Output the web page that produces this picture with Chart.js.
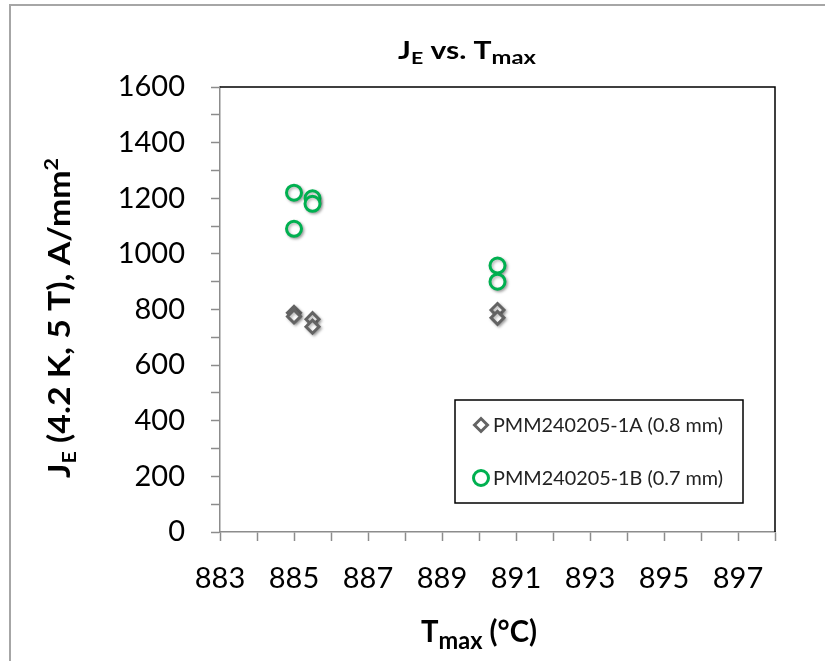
<!DOCTYPE html>
<html><head><meta charset="utf-8">
<script src="https://cdn.jsdelivr.net/npm/chart.js@4"></script>
<style>html,body{margin:0;padding:0;background:#fff}#wrap{width:825px;height:661px;position:relative}</style>
</head><body><div id="wrap"><canvas id="c" width="825" height="661"></canvas></div>
<script>
// ---- data ----
const seriesNames = ['PMM240205-1A (0.8 mm)', 'PMM240205-1B (0.7 mm)'];
const tmaxA = [885, 885, 885.5, 885.5, 890.5, 890.5];
const jeA   = [788, 775, 765, 738, 798, 770];
const tmaxB = [885, 885, 885.5, 885.5, 890.5, 890.5];
const jeB   = [1220, 1090, 1200, 1180, 958, 900];
const xTickLabels = [883, 885, 887, 889, 891, 893, 895, 897];
const yTickLabels = [0, 200, 400, 600, 800, 1000, 1200, 1400, 1600];
const xMin = 883, xMax = 898, yMin = 0, yMax = 1600;

const colA = '#636363', colB = '#00B050';
const FONT = 'Lato, "Open Sans", sans-serif';

function pts(xs, ys) { return xs.map((x, i) => ({x: x, y: ys[i]})); }

function rich(ctx, segs, cx, base, targetW) {
  let w = 0;
  segs.forEach(s => { ctx.font = 'bold ' + s.size + 'px ' + FONT; s.w = ctx.measureText(s.t).width; w += s.w; });
  const sx = targetW ? targetW / w : 1;
  ctx.save();
  ctx.translate(cx, base);
  ctx.scale(sx, 1);
  ctx.fillStyle = '#000';
  ctx.textBaseline = 'alphabetic';
  ctx.textAlign = 'left';
  let x = -w / 2;
  segs.forEach(s => { ctx.font = 'bold ' + s.size + 'px ' + FONT; ctx.fillText(s.t, x, s.dy || 0); x += s.w; });
  ctx.restore();
}

const deco = {
  id: 'deco',
  beforeDraw(chart) {
    const ctx = chart.ctx;
    ctx.save();
    ctx.fillStyle = '#fff';
    ctx.fillRect(0, 0, chart.width, chart.height);
    ctx.strokeStyle = '#a6a6a6';
    ctx.lineWidth = 2;
    ctx.beginPath();
    ctx.moveTo(10, chart.height); ctx.lineTo(10, 5); ctx.lineTo(chart.width, 5);
    ctx.stroke();
    ctx.restore();
  },
  beforeDatasetsDraw(chart) {
    const ctx = chart.ctx, a = chart.chartArea;
    ctx.save();
    ctx.strokeStyle = '#000';
    ctx.lineWidth = 1.5;
    ctx.beginPath();
    ctx.moveTo(a.left, a.top); ctx.lineTo(a.right, a.top); ctx.lineTo(a.right, a.bottom);
    ctx.stroke();
    ctx.restore();
    ctx.save();
    ctx.shadowColor = 'rgba(0,0,0,0.3)';
    ctx.shadowBlur = 3;
    ctx.shadowOffsetX = 1.5;
    ctx.shadowOffsetY = 1.5;
  },
  afterDatasetsDraw(chart) {
    chart.ctx.restore();
  },
  afterDraw(chart) {
    const ctx = chart.ctx;
    // title
    rich(ctx, [{t:'J', size:24}, {t:'E', size:17, dy:5}, {t:' vs. T', size:24}, {t:'max', size:19, dy:5}], 467, 59, 138);
    // x title
    rich(ctx, [{t:'T', size:31}, {t:'max', size:25, dy:7}, {t:' (°C)', size:31}], 479, 642, 116);
    // y title
    ctx.save();
    ctx.translate(70, 318);
    ctx.rotate(-Math.PI / 2);
    rich(ctx, [{t:'J', size:30}, {t:'E', size:19, dy:6}, {t:' (4.2 K, 5 T), A/mm', size:30}, {t:'2', size:19, dy:-12}], 0, 0, 320);
    ctx.restore();
    // legend
    const L = 455, T = 400, R = 743, B = 503;
    ctx.save();
    ctx.fillStyle = '#fff';
    ctx.fillRect(L, T, R - L, B - T);
    ctx.strokeStyle = '#000';
    ctx.lineWidth = 1.5;
    ctx.strokeRect(L, T, R - L, B - T);
    const rows = [425, 478];
    chart.data.datasets.forEach((ds, i) => {
      ctx.save();
      ctx.strokeStyle = ds.borderColor;
      ctx.fillStyle = ds.backgroundColor;
      ctx.lineWidth = ds.borderWidth;
      Chart.helpers.drawPoint(ctx, {pointStyle: ds.pointStyle, radius: ds.pointRadius, borderWidth: ds.borderWidth, rotation: 0}, 481, rows[i]);
      ctx.restore();
      ctx.save();
      ctx.font = '19px ' + FONT;
      const w = ctx.measureText(ds.label).width;
      ctx.translate(493, rows[i]);
      ctx.scale(230 / w, 1);
      ctx.fillStyle = '#222';
      ctx.textBaseline = 'middle';
      ctx.fillText(ds.label, 0, 1);
      ctx.restore();
    });
    ctx.restore();
  }
};

new Chart(document.getElementById('c'), {
  type: 'scatter',
  data: {
    datasets: [
      { label: seriesNames[0], data: pts(tmaxA, jeA), pointStyle: 'rectRot', pointRadius: 6.5, borderWidth: 3,
        borderColor: colA, backgroundColor: '#fff', pointHoverRadius: 6.5 },
      { label: seriesNames[1], data: pts(tmaxB, jeB), pointStyle: 'circle', pointRadius: 7.5, borderWidth: 3,
        borderColor: colB, backgroundColor: '#fff', pointHoverRadius: 7.5 }
    ]
  },
  options: {
    responsive: false,
    animation: false,
    devicePixelRatio: 1,
    layout: { padding: { top: 87, right: 50, left: 0, bottom: 0 } },
    plugins: { legend: { display: false }, title: { display: false }, tooltip: { enabled: false } },
    scales: {
      x: {
        type: 'linear', min: xMin, max: xMax,
        afterFit(s) { s.height = 129; },
        grid: { display: true, drawOnChartArea: false, drawTicks: true, tickLength: 9, color: '#8c8c8c', tickWidth: 1.5 },
        border: { display: true, color: '#8c8c8c', width: 1.5 },
        ticks: {
          stepSize: 1, autoSkip: false, maxRotation: 0, padding: 20,
          color: '#000', font: { family: FONT, size: 29 },
          callback: v => xTickLabels.includes(v) ? String(v) : ''
        }
      },
      y: {
        type: 'linear', min: yMin, max: yMax,
        afterFit(s) { s.width = 220; },
        grid: { display: true, drawOnChartArea: false, drawTicks: true, tickLength: 9, color: '#8c8c8c', tickWidth: 1.5 },
        border: { display: true, color: '#8c8c8c', width: 1.5 },
        ticks: {
          stepSize: 100, autoSkip: false, padding: 26,
          color: '#000', font: { family: FONT, size: 29 },
          callback: v => yTickLabels.includes(v) ? String(v) : ''
        }
      }
    }
  },
  plugins: [deco]
});
</script>
</body></html>
